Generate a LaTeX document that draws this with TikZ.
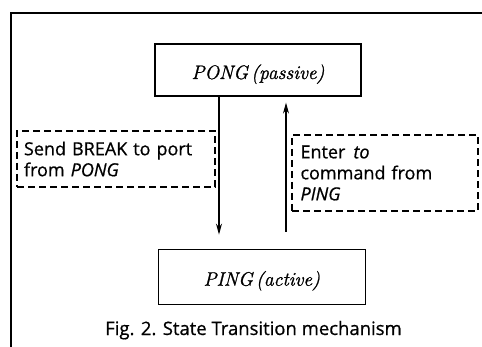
\documentclass[tikz,border=0pt]{standalone}
\usepackage{fontspec}
\setsansfont{Open Sans}[FakeBold=0.7]
\newfontfamily\statefont{Latin Modern Roman}[FakeBold=1.2]
\usetikzlibrary{arrows.meta}
\tikzset{
  statebox/.style={draw, line width=1.2pt, inner sep=0pt, text height=20pt, text depth=2pt,
    font=\statefont\itshape\fontsize{19.5}{23}\selectfont},
  notebox/.style={draw, dashed, dash pattern=on 7pt off 4pt, line width=1.4pt, align=left,
    inner ysep=0pt, font=\sffamily\fontsize{18}{21}\selectfont},
  arr/.style={line width=1.2pt, -{Stealth[length=11pt,width=6pt]}},
  frameline/.style={line width=2.6pt},
  caption/.style={anchor=base, inner sep=0pt, font=\sffamily\fontsize{18.5}{21}\selectfont}
}
\begin{document}
\begin{tikzpicture}[x=1pt,y=-1pt]
\useasboundingbox (0,0) rectangle (482,347);
% frame
\coordinate (ftr) at (482,13);
\coordinate (ftl) at (11,13);
\coordinate (fbl) at (11,347);
\draw[frameline] (ftr) -- (ftl) -- (fbl);
% states
\node[statebox, minimum width=206pt, minimum height=52pt] (pong) at (258,70) {PONG\,(passive)};
\node[statebox, minimum width=207pt, minimum height=55pt] (ping) at (261.8,276.7) {PING\,(active)};
% notes
\node[notebox, minimum width=198pt, minimum height=56pt, inner xsep=7pt, text width=184pt]
  (lnote) at (116,159) {Send BREAK to port\\from \textit{PONG}};
\node[notebox, minimum width=186pt, minimum height=76pt, inner xsep=8.5pt, text width=169pt]
  (rnote) at (385,173) {Enter\hspace{0.45em}\textit{to}\\command from\\\textit{PING}};
% transitions
\coordinate (dx) at (219,0);
\coordinate (ux) at (286,0);
\draw[arr, shorten >=14pt] (pong.south -| dx) -- (ping.north -| dx);
\draw[arr, shorten <=17pt, shorten >=6pt] (ping.north -| ux) -- (pong.south -| ux);
% caption
\node[caption] (cap) at (253.5,335) {Fig. 2. State Transition mechanism};
\end{tikzpicture}
\end{document}
